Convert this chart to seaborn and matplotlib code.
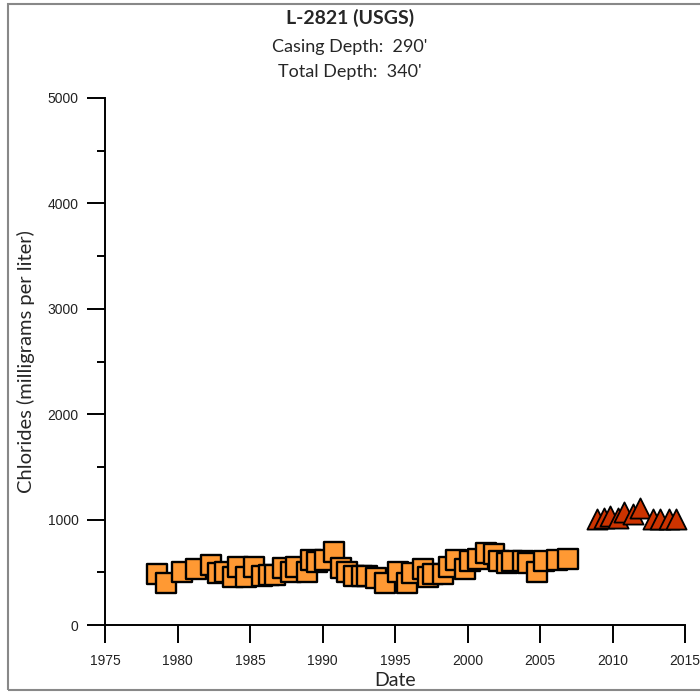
import matplotlib
matplotlib.use("Agg")
import matplotlib.pyplot as plt
import matplotlib.patches as mpatches
from matplotlib.ticker import MultipleLocator
import seaborn as sns
import pandas as pd

# ---- data ----
sq_years = [1978.6, 1979.2, 1980.3, 1981.3, 1982.3, 1982.8, 1983.3, 1983.8, 1984.2, 1984.7,
            1985.3, 1985.8, 1986.3, 1986.7, 1987.3, 1987.8, 1988.2, 1988.9, 1989.2, 1989.6,
            1990.2, 1990.8, 1991.3, 1991.7, 1992.2, 1992.7, 1993.1, 1993.7, 1994.3, 1995.2,
            1995.8, 1996.2, 1996.9, 1997.3, 1997.6, 1998.3, 1998.7, 1999.2, 1999.8, 2000.2,
            2000.7, 2001.3, 2001.8, 2002.2, 2002.7, 2003.1, 2003.8, 2004.2, 2004.8, 2005.3,
            2006.2, 2006.9]
sq_values = [480, 400, 500, 530, 570, 490, 500, 460, 550, 460,
             550, 465, 475, 470, 540, 500, 550, 500, 615, 600,
             615, 690, 540, 500, 465, 465, 465, 445, 400, 500,
             400, 490, 530, 455, 480, 480, 550, 615, 530, 610,
             625, 680, 670, 610, 590, 610, 610, 590, 500, 610,
             615, 625]
tri_years = [2008.9, 2009.4, 2009.8, 2010.4, 2010.8, 2011.4, 2011.9, 2012.8, 2013.3, 2013.9, 2014.4]
tri_values = [1005, 1015, 1035, 1020, 1070, 1055, 1110, 1005, 1005, 1005, 1005]

title = "L-2821 (USGS)"
subtitle1 = "Casing Depth:  290'"
subtitle2 = "Total Depth:  340'"
xlabel = "Date"
ylabel = "Chlorides (milligrams per liter)"
xticks = list(range(1975, 2016, 5))
yticks = list(range(0, 5001, 1000))

sq_df = pd.DataFrame({"year": sq_years, "value": sq_values})
tri_df = pd.DataFrame({"year": tri_years, "value": tri_values})

sns.set_style("ticks")
fig = plt.figure(figsize=(7.0, 6.94), dpi=100)
ax = fig.add_axes([0.15, 0.0994, 0.8286, 0.7594])

sns.scatterplot(data=sq_df, x="year", y="value", marker="s", s=200,
                color="#FF9933", edgecolor="black", linewidth=1.7, ax=ax, zorder=3, clip_on=False)
sns.scatterplot(data=tri_df, x="year", y="value", marker="^", s=210,
                color="#CC3300", edgecolor="black", linewidth=1.3, ax=ax, zorder=3, clip_on=False)

ax.set_xlim(1975, 2015)
ax.set_ylim(0, 5000)
ax.set_xticks(xticks)
ax.set_yticks(yticks)
ax.yaxis.set_minor_locator(MultipleLocator(500))

for s in ["top", "right"]:
    ax.spines[s].set_visible(False)
for s in ["left", "bottom"]:
    ax.spines[s].set_linewidth(1.4)
    ax.spines[s].set_color("black")

ax.tick_params(axis="both", which="major", direction="out", length=13, width=1.4,
               color="black", labelsize=10, labelcolor="#222222", pad=6,
               bottom=True, left=True)
ax.tick_params(axis="y", which="minor", direction="out", length=6, width=1.4, color="black", left=True)
ax.tick_params(axis="x", which="major", pad=8)
for lab in ax.get_xticklabels() + ax.get_yticklabels():
    lab.set_fontfamily("Liberation Sans")

ax.set_xlabel(xlabel, fontsize=14, fontfamily="Lato", labelpad=3)
ax.set_ylabel(ylabel, fontsize=14.5, fontfamily="Lato", labelpad=9)

fig.text(0.5, 0.974, title, ha="center", va="center", fontsize=14, fontweight="bold", fontfamily="Lato")
fig.text(0.5, 0.932, subtitle1, ha="center", va="center", fontsize=13, fontfamily="Lato")
fig.text(0.5, 0.896, subtitle2, ha="center", va="center", fontsize=13, fontfamily="Lato")

fig.patches.append(mpatches.Rectangle((0.011, 0.006), 1.0, 0.988, transform=fig.transFigure,
                                      fill=False, edgecolor="#888888", linewidth=1.5, zorder=0))

fig.savefig("out.png", dpi=100)
